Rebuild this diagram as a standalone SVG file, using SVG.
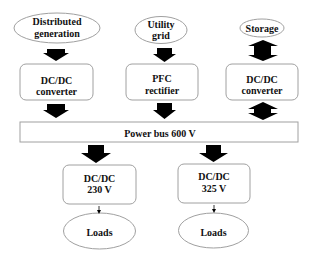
<svg xmlns="http://www.w3.org/2000/svg" width="320" height="260" viewBox="0 0 320 260">
<style>
.n{fill:#fff;stroke:#a0a0a0;stroke-width:1}
.t{font-family:"Liberation Serif","Times New Roman",serif;font-weight:bold;font-size:10px;fill:#111;text-anchor:middle}
.a{fill:#000;stroke:none}
</style>
<defs>
<marker id="sm" markerWidth="4" markerHeight="4" refX="2" refY="2" orient="auto" markerUnits="userSpaceOnUse"><path d="M0,0 L4,2 L0,4 z" fill="#000"/></marker>
</defs>
<rect width="320" height="260" fill="#fff"/>
<g id="distributed-generation"><ellipse class="n" cx="57" cy="28" rx="43" ry="15"/><text class="t" x="57" y="25">Distributed</text><text class="t" x="57" y="37">generation</text></g>
<g id="utility-grid"><ellipse class="n" cx="161" cy="30" rx="26" ry="13.5"/><text class="t" x="161" y="28">Utility</text><text class="t" x="161" y="39">grid</text></g>
<g id="storage"><ellipse class="n" cx="262" cy="28" rx="22" ry="9"/><text class="t" x="262" y="32">Storage</text></g>
<g id="dcdc-left"><rect class="n" x="20" y="64" width="73" height="36" rx="6"/><text class="t" x="56.5" y="84">DC/DC</text><text class="t" x="56.5" y="95">converter</text></g>
<g id="pfc"><rect class="n" x="126" y="64" width="72" height="36" rx="6"/><text class="t" x="162" y="82">PFC</text><text class="t" x="162" y="94">rectifier</text></g>
<g id="dcdc-right"><rect class="n" x="226" y="64" width="72" height="36" rx="6"/><text class="t" x="262" y="83">DC/DC</text><text class="t" x="262" y="94">converter</text></g>
<g id="bus"><rect class="n" x="20" y="122" width="278" height="20"/><text class="t" x="160" y="137">Power bus 600 V</text></g>
<g id="dcdc-230"><rect class="n" x="63" y="165" width="73" height="39" rx="6"/><text class="t" x="99.5" y="182">DC/DC</text><text class="t" x="99.5" y="193">230 V</text></g>
<g id="dcdc-325"><rect class="n" x="178" y="164" width="72" height="39" rx="6"/><text class="t" x="214" y="180">DC/DC</text><text class="t" x="214" y="192">325 V</text></g>
<g id="loads-left"><ellipse class="n" cx="99.5" cy="231" rx="36" ry="18"/><text class="t" x="99.5" y="236">Loads</text></g>
<g id="loads-right"><ellipse class="n" cx="213.5" cy="230.5" rx="35" ry="17.5"/><text class="t" x="213.5" y="236">Loads</text></g>
<g id="connectors">
<path class="a" d="M47,49 H65 V53 H69 L56,61 L43,53 H47 Z"/>
<path class="a" d="M157,48 H172 V54 H176 L164.5,62 L153,54 H157 Z"/>
<path class="a" d="M254,46 H248 L263,40 L278,46 H271 V55 H278 L263,61 L248,55 H254 Z"/>
<path class="a" d="M47,104 H65 V110 H69 L56,118 L43,110 H47 Z"/>
<path class="a" d="M157,103 H172 V110 H176 L164.5,119 L153,110 H157 Z"/>
<path class="a" d="M254,109 H248 L263,102 L278,109 H271 V113 H278 L263,120 L248,113 H254 Z"/>
<path class="a" d="M88,145 H104 V153 H111 L96,163 L81,153 H88 Z"/>
<path class="a" d="M206,145 H221 V153 H228 L213.5,162 L199,153 H206 Z"/>
<line x1="99" y1="206" x2="99" y2="212" stroke="#000" stroke-width="0.8" marker-end="url(#sm)"/>
<line x1="214" y1="205" x2="214" y2="211" stroke="#000" stroke-width="0.8" marker-end="url(#sm)"/>
</g>
</svg>
